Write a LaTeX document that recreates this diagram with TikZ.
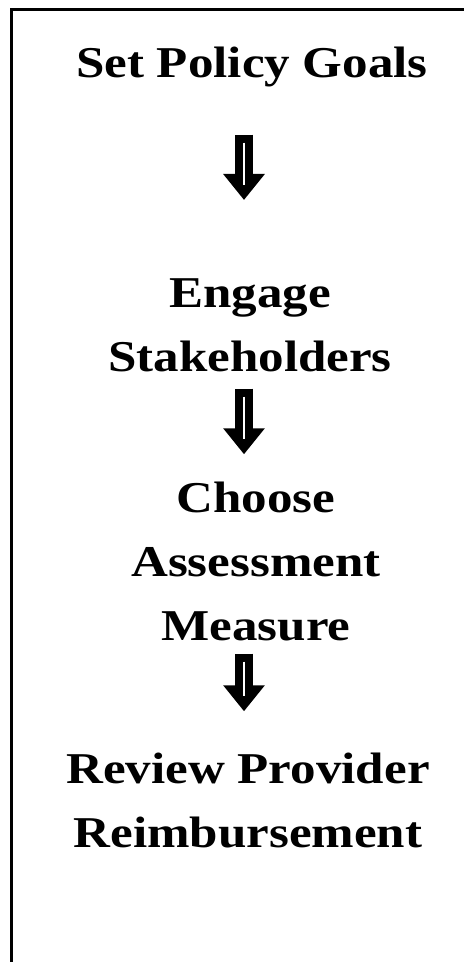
\documentclass[tikz,border=0pt]{standalone}
\usepackage{fontspec}
\setmainfont[FakeStretch=1.16]{Liberation Serif}
\usetikzlibrary{arrows.meta,positioning}

\tikzset{
  steptext/.style={font=\bfseries\fontsize{44}{64}\selectfont, align=center, inner sep=0pt, anchor=base},
  downarrow/.style={line width=18pt, -{Triangle[width=40pt,length=26pt]}},
  arrowline/.style={white, line width=1.2pt}
}

\begin{document}
\begin{tikzpicture}[x=1pt,y=-1pt]
  \useasboundingbox (0,0) rectangle (464,962);
  % frame, only top and left edge show
  \draw[line width=3pt] (11,962) |- (464,9);

  % steps (base = baseline of the last line)
  \node[steptext] (goals) at (252,77) {Set Policy Goals};
  \node[steptext] (engage) at (250,371) {Engage\\Stakeholders};
  \node[steptext] (choose) at (256,640) {Choose\\Assessment\\Measure};
  \node[steptext] (review) at (248,847) {Review Provider\\Reimbursement};

  \coordinate (ax) at (244,0);

  % arrows between steps
  \draw[downarrow, shorten <=48pt, shorten >=78pt] (goals.south -| ax) -- (engage.north -| ax);
  \draw[arrowline, shorten <=56pt, shorten >=93pt] (goals.south -| ax) -- (engage.north -| ax);

  \draw[downarrow, shorten <=17pt, shorten >=27pt] (engage.south -| ax) -- (choose.north -| ax);
  \draw[arrowline, shorten <=25pt, shorten >=42pt] (engage.south -| ax) -- (choose.north -| ax);

  \draw[downarrow, shorten <=13pt, shorten >=41pt] (choose.south -| ax) -- (review.north -| ax);
  \draw[arrowline, shorten <=21pt, shorten >=56pt] (choose.south -| ax) -- (review.north -| ax);
\end{tikzpicture}
\end{document}
